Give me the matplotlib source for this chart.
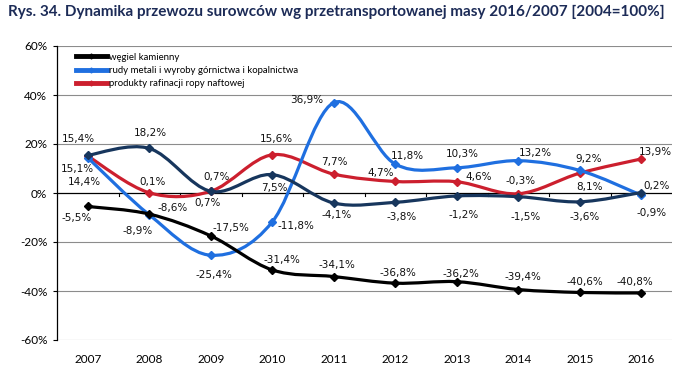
import matplotlib
matplotlib.use('Agg')
import matplotlib.pyplot as plt
from matplotlib.path import Path
from matplotlib.patches import PathPatch

# data
years = ['2007', '2008', '2009', '2010', '2011', '2012', '2013', '2014', '2015', '2016']
wegiel = [-5.5, -8.6, -17.5, -31.4, -34.1, -36.8, -36.2, -39.4, -40.6, -40.8]
rudy = [14.4, -8.9, -25.4, -11.8, 36.9, 11.8, 10.3, 13.2, 9.2, -0.9]
produkty = [15.1, 0.1, 0.7, 15.6, 7.7, 4.7, 4.6, -0.3, 8.1, 13.9]
inne = [15.4, 18.2, 0.7, 7.5, -4.1, -3.8, -1.2, -1.5, -3.6, 0.2]
legend_labels = ['węgiel kamienny', 'rudy metali i wyroby górnictwa i kopalnictwa',
                 'produkty rafinacji ropy naftowej']

# label offsets in pixels (dx, dy) for each point
off_wegiel = [(-11, -12), (23, 6), (20, 8), (10, 10), (3, 12), (3, 10), (4, 8), (5, 13), (5, 10), (-6, 11)]
off_rudy = [(-3, -24), (-12, -16), (3, -20), (24, -4), (-27, 3), (12, 8), (6, 14), (17, 8), (9, 11), (10, -18)]
off_produkty = [(-10, -13), (3, 11), (6, 14), (4, 16), (1, 12), (-15, 8), (22, 5), (2, 13), (10, -14), (14, 7)]
off_inne = [(-9, 16), (1, 15), (-3, -12), (2, -13), (3, -12), (6, -15), (7, -19), (7, -20), (5, -15), (15, 7)]

BLACK = '#000000'
BLUE = '#1f6fe0'
RED = '#cc1f2e'
NAVY = '#17365d'


def smooth_path(xs, ys):
    # excel-like smoothed line: cubic bezier through the points
    n = len(xs)
    verts = [(xs[0], ys[0])]
    codes = [Path.MOVETO]
    for i in range(n - 1):
        x0, y0 = xs[max(i - 1, 0)], ys[max(i - 1, 0)]
        x1, y1 = xs[i], ys[i]
        x2, y2 = xs[i + 1], ys[i + 1]
        x3, y3 = xs[min(i + 2, n - 1)], ys[min(i + 2, n - 1)]
        c1 = (x1 + (x2 - x0) / 6, y1 + (y2 - y0) / 6)
        c2 = (x2 - (x3 - x1) / 6, y2 - (y3 - y1) / 6)
        verts += [c1, c2, (x2, y2)]
        codes += [Path.CURVE4] * 3
    return Path(verts, codes)


fig = plt.figure(figsize=(6.74, 3.70), dpi=100)
ax = fig.add_axes([57 / 674, 30 / 370, 615 / 674, 294 / 370])

x = list(range(len(years)))
series = [(wegiel, BLACK, off_wegiel, legend_labels[0], 4),
          (rudy, BLUE, off_rudy, legend_labels[1], 3),
          (produkty, RED, off_produkty, legend_labels[2], 2),
          (inne, NAVY, off_inne, None, 5)]

for vals, col, offs, lab, z in series:
    ax.add_patch(PathPatch(smooth_path(x, vals), fill=False, edgecolor=col,
                           lw=2.3, zorder=z, capstyle='round', joinstyle='round'))
    ax.plot(x, vals, ls='none', marker='D', ms=4, color=col, zorder=z + 0.5)
    if lab:
        ax.plot([], [], color=col, lw=3.5, marker='D', ms=2.5, label=lab)
    for xi, v, (dx, dy) in zip(x, vals, offs):
        ax.annotate(f'{v:.1f}%'.replace('.', ','), (xi, v), xytext=(dx, dy),
                    textcoords='offset pixels', ha='center', va='center',
                    fontsize=7.5, family='DejaVu Sans', color='#111111', zorder=10)

ax.set_xlim(-0.5, len(years) - 0.5)
ax.set_ylim(-60, 60)
ax.set_yticks(range(-60, 61, 20))
ax.set_yticklabels([f'{t}%' for t in range(-60, 61, 20)], family='Lato', fontsize=8.5)
ax.set_xticks(x)
ax.set_xticklabels(years, family='Lato', fontsize=8.5)
ax.tick_params(axis='x', length=0, pad=10)
ax.tick_params(axis='y', length=3, width=0.8, direction='out', pad=4)

for t in range(-60, 61, 20):
    if t != 0:
        ax.axhline(t, color='#8c8c8c', lw=0.8, zorder=0)
ax.axhline(0, color='black', lw=0.9, zorder=1)
# category tick marks on the zero line
for b in range(1, len(years)):
    ax.plot([b - 0.5, b - 0.5], [0, -1.3], color='black', lw=0.8, zorder=1)

for s in ['top', 'right', 'bottom']:
    ax.spines[s].set_visible(False)
ax.spines['left'].set_linewidth(0.9)

leg = ax.legend(loc='upper left', bbox_to_anchor=(0.024, 0.99), frameon=False,
                prop={'family': 'Lato', 'size': 6.9}, handlelength=3.3,
                handletextpad=0.15, labelspacing=0.45, borderaxespad=0)

fig.text(8 / 674, 1 - 12 / 370, 'Rys. 34. Dynamika przewozu surowców wg przetransportowanej masy 2016/2007 [2004=100%]',
         family='Lato', fontweight='bold', fontsize=10.95, color='#1c2b57', va='center', ha='left')

fig.savefig('out.png', dpi=100)
